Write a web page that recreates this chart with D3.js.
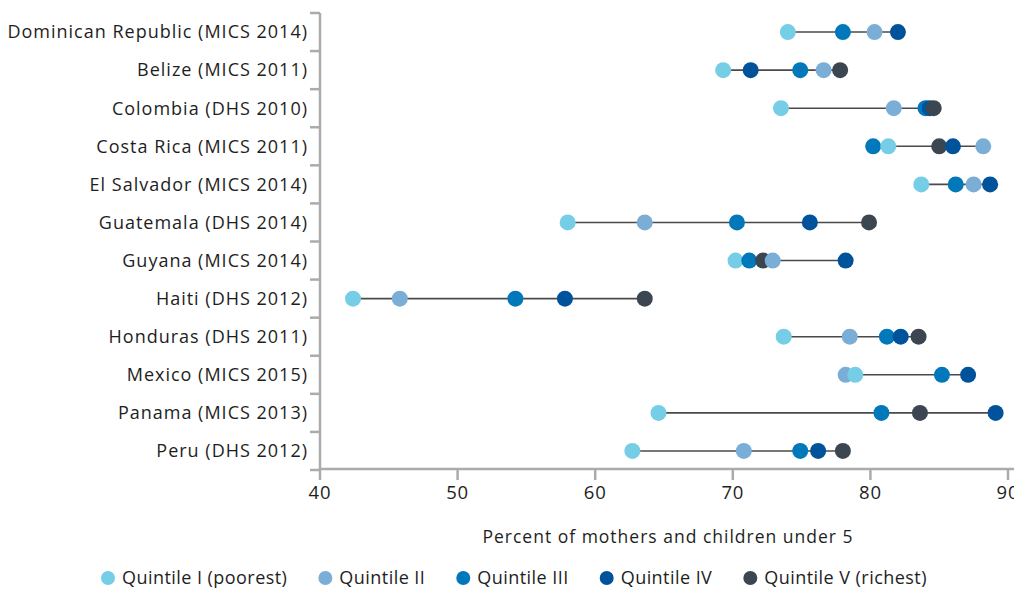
<!DOCTYPE html>
<html>
<head>
<meta charset="utf-8">
<script src="https://cdn.jsdelivr.net/npm/d3@7"></script>
<style>
  html, body { margin: 0; padding: 0; background: #fff; }
  svg { display: block; font-family: "Open Sans", sans-serif; }
</style>
</head>
<body>
<svg id="chart" width="1014" height="589"></svg>
<script>
const countries = [
  "Dominican Republic (MICS 2014)", "Belize (MICS 2011)", "Colombia (DHS 2010)",
  "Costa Rica (MICS 2011)", "El Salvador (MICS 2014)", "Guatemala (DHS 2014)",
  "Guyana (MICS 2014)", "Haiti (DHS 2012)", "Honduras (DHS 2011)",
  "Mexico (MICS 2015)", "Panama (MICS 2013)", "Peru (DHS 2012)"
];
const quintileNames = ["Quintile I (poorest)", "Quintile II", "Quintile III", "Quintile IV", "Quintile V (richest)"];
const q1 = [74.0, 69.3, 73.5, 81.3, 83.7, 58.0, 70.2, 42.4, 73.7, 78.9, 64.6, 62.7];
const q2 = [80.3, 76.6, 81.7, 88.2, 87.5, 63.6, 72.9, 45.8, 78.5, 78.2, null, 70.8];
const q3 = [78.0, 74.9, 84.0, 80.2, 86.2, 70.3, 71.2, 54.2, 81.2, 85.2, 80.8, 74.9];
const q4 = [82.0, 71.3, 84.3, 86.0, 88.7, 75.6, 78.2, 57.8, 82.2, 87.1, 89.1, 76.2];
const q5 = [null, 77.8, 84.6, 85.0, null, 79.9, 72.2, 63.6, 83.5, null, 83.6, 78.0];
const xTicks = [40, 50, 60, 70, 80, 90];
const xTitle = "Percent of mothers and children under 5";
const colors = ["#76CDE6", "#7BAED6", "#0078BA", "#00539B", "#3C4650"];

const series = [q1, q2, q3, q4, q5];
const svg = d3.select("#chart");
const axisColor = "#ababab";
const textColor = "#1e1e1e";

const x = d3.scaleLinear().domain([40, 90]).range([320, 1008]);
const y = d3.scaleBand().domain(countries).range([13, 470]).padding(0);

// y axis
const gy = svg.append("g").attr("transform", "translate(320,0)");
gy.append("line").attr("x1", 0).attr("x2", 0).attr("y1", 13).attr("y2", 470)
  .attr("stroke", axisColor).attr("stroke-width", 2.5);
const bounds = countries.map(c => y(c)).concat([470]);
gy.selectAll("line.tk").data(bounds).join("line").attr("class", "tk")
  .attr("x1", -10).attr("x2", 0).attr("y1", d => d).attr("y2", d => d)
  .attr("stroke", axisColor).attr("stroke-width", 2.5);
gy.selectAll("text").data(countries).join("text")
  .attr("x", -12).attr("y", d => y(d) + y.bandwidth() / 2)
  .attr("dy", "0.35em").attr("text-anchor", "end")
  .attr("font-size", 18).attr("letter-spacing", "1px")
  .attr("fill", textColor).text(d => d);

// x axis
const gx = svg.append("g").attr("transform", "translate(0,469)");
gx.append("line").attr("x1", 319).attr("x2", 1014).attr("y1", 0).attr("y2", 0)
  .attr("stroke", axisColor).attr("stroke-width", 2.5);
gx.selectAll("line.tk").data(xTicks).join("line").attr("class", "tk")
  .attr("x1", d => x(d)).attr("x2", d => x(d)).attr("y1", 0).attr("y2", 11)
  .attr("stroke", axisColor).attr("stroke-width", 2.5);
gx.selectAll("text").data(xTicks).join("text")
  .attr("x", d => x(d)).attr("y", 30).attr("text-anchor", "middle")
  .attr("font-size", 18.5).attr("letter-spacing", "0.8px")
  .attr("fill", textColor).text(d => d);

svg.append("text").attr("x", 668).attr("y", 543).attr("text-anchor", "middle")
  .attr("font-size", 17.5).attr("letter-spacing", "1px")
  .attr("fill", textColor).text(xTitle);

// rows
const rows = countries.map((c, i) => {
  const pts = series.map((s, k) => ({ k, v: s[i] })).filter(p => p.v != null);
  return { c, pts };
});
const gr = svg.append("g");
rows.forEach(r => {
  const cy = y(r.c) + y.bandwidth() / 2;
  const ext = d3.extent(r.pts, p => p.v);
  gr.append("line").attr("x1", x(ext[0])).attr("x2", x(ext[1]))
    .attr("y1", cy).attr("y2", cy).attr("stroke", "#4a4a4a").attr("stroke-width", 1.6);
  const sorted = r.pts.slice().sort((a, b) => a.v - b.v);
  gr.selectAll(null).data(sorted).join("circle")
    .attr("cx", p => x(p.v)).attr("cy", cy).attr("r", 8)
    .attr("fill", p => colors[p.k]);
});

// legend
const lg = svg.append("g").attr("transform", "translate(0,578)");
let lx = 101;
quintileNames.forEach((name, k) => {
  lg.append("circle").attr("cx", lx + 7).attr("cy", 0).attr("r", 7).attr("fill", colors[k]);
  const t = lg.append("text").attr("x", lx + 21).attr("y", 0).attr("dy", "0.35em")
    .attr("font-size", 18).attr("letter-spacing", "0.45px")
    .attr("fill", textColor).text(name);
  lx += 21 + t.node().getComputedTextLength() + 31;
});
</script>
</body>
</html>
